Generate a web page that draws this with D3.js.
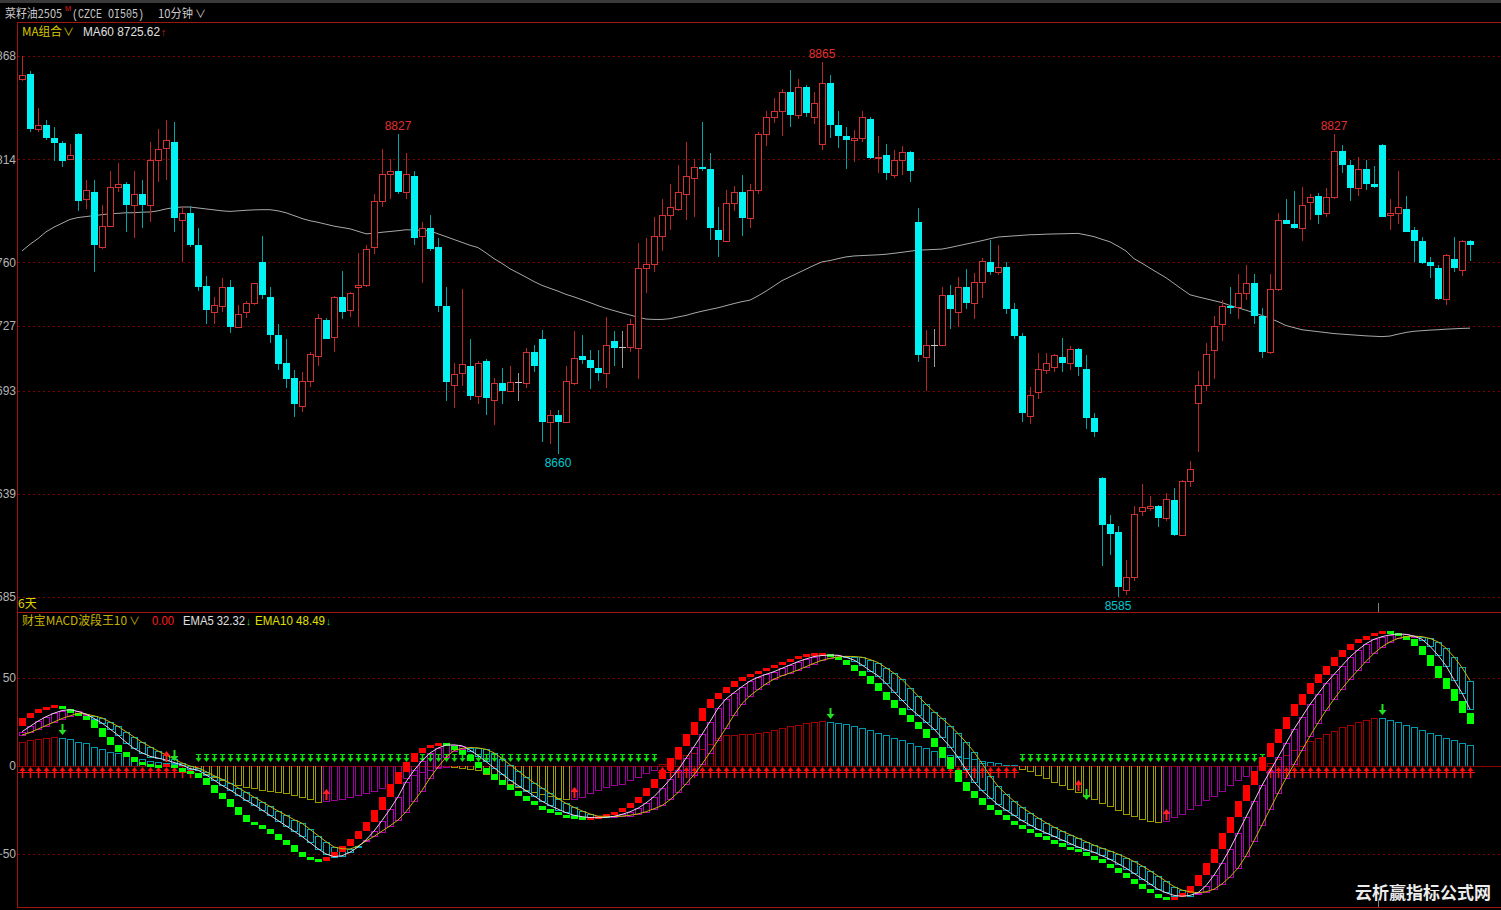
<!DOCTYPE html>
<html><head><meta charset="utf-8">
<script src="https://cdn.jsdelivr.net/npm/d3@7"></script>
<style>
html,body{margin:0;padding:0;background:#000;overflow:hidden}
svg{display:block}
</style></head><body>
<svg id="c" width="1501" height="910"></svg>
<script>
const open=[8856,8858.5,8830,8832,8825,8822.5,8814,8827,8793,8797,
8768,8779,8799.5,8801,8790,8796,8790,8813.5,8820,8823,
8782,8786,8769,8747.5,8734,8737,8747,8726,8734,8739,
8760.5,8742,8722,8707.5,8699.5,8685,8698,8711,8730,8721,
8742,8735,8747,8748,8768,8792,8806.5,8808,8797,8805,
8774,8778,8768,8737,8696,8702,8706,8690,8708.5,8688,
8697,8693,8697.5,8697,8713,8720,8676.5,8680,8676.5,8697,
8711,8709,8705,8702,8719,8715.8,8716,8715,8757,8759,
8774,8785,8788,8796,8804,8810,8809,8777,8771,8791,
8797,8783,8798,8827,8836,8839,8849,8837,8852,8836,
8822,8854,8832,8826,8824,8825,8835,8814.5,8816,8806,
8813.5,8818,8781,8710.5,8717,8717,8743,8734,8747,8739,
8750,8760.5,8755,8757.5,8735.5,8721.5,8679.5,8692,8703.5,8705.5,
8710.5,8707.5,8714.5,8704.5,8678.5,8647.5,8623,8619,8588.5,8595.5,
8630,8631.5,8632.5,8626.5,8636,8617.5,8645.5,8686.5,8696,8714,
8728,8737,8736.5,8744,8749,8732,8713,8746,8782,8780,
8778,8791.5,8795,8786,8794,8818.5,8811,8799,8809,8801,
8821.5,8785,8786,8788,8777,8771,8760,8757,8741,8762,
8756,8771];
const high=[8868,8860,8841,8834.5,8831,8823.5,8822,8827.5,8803,8803,
8790,8808,8812,8802,8808,8803,8823,8830,8834.5,8833.5,
8789,8789.5,8778,8753,8742,8752,8751,8738,8740,8749.5,
8774,8747,8728,8720,8704,8702.5,8713,8733,8731,8742.5,
8755.5,8744.5,8765,8769,8796,8819.5,8814,8827,8817,8808,
8781,8785,8773,8747,8707.5,8746,8720,8708.5,8709.5,8699.5,
8705,8706,8702,8715.5,8717,8724.5,8683,8683,8706,8724,
8722,8714,8714,8731.5,8724,8724,8730.5,8770,8773,8784,
8793,8801,8811,8823,8814,8833.5,8817,8789,8798,8800,
8805.5,8801,8828.5,8839,8846,8850.5,8860.5,8856,8853,8849,
8865,8858,8839,8831,8829.5,8839,8836,8826,8822,8819,
8821,8818.5,8788.5,8724.5,8725,8747,8748,8752.5,8756.5,8754.5,
8762.5,8772,8769,8760.5,8739,8723,8695,8712.5,8712.5,8712,
8720.5,8716.5,8715,8711.5,8681,8648,8628,8622,8604.5,8632.5,
8644,8638,8633,8639.5,8642,8646,8656,8703,8718,8732,
8740.5,8747,8754,8758.5,8754,8736,8754,8786,8793,8797.5,
8799.5,8796,8796.5,8799,8827,8821.5,8813.5,8815,8813.5,8810.5,
8822,8793,8808,8795,8778.5,8773.5,8763,8758.5,8764.5,8773.5,
8772,8772];
const low=[8855,8828,8828,8824,8813,8810,8813.5,8787,8788,8755,
8767,8778.5,8797,8776,8773,8778,8781,8802,8803,8776,
8760,8768,8745,8728,8728,8734,8723,8725.5,8731,8738,
8741,8718,8704,8694.5,8679,8682,8695,8706,8720,8713,
8730.5,8731.5,8726.5,8747,8764.5,8789,8793,8796,8793,8769,
8749,8766,8734,8687.5,8684,8695.5,8688,8686,8680,8675,
8686,8692.5,8687.5,8694.5,8702.5,8666,8665,8660,8676,8696,
8707,8694,8698,8694.5,8706,8705,8713,8699,8744,8755,
8766,8777,8787,8782,8784,8808,8772,8763,8770.5,8787,
8774,8778,8796,8821,8833,8826,8831,8835,8836,8832.5,
8819,8825,8820,8809,8812.5,8823,8814,8807,8803,8804,
8806,8802,8708,8693,8705.5,8717,8725,8726,8735.5,8730.5,
8741.5,8753.5,8753.5,8733,8720,8676.5,8675.5,8688.5,8701.5,8702.5,
8702.5,8703.5,8700.5,8673,8668.5,8601,8607,8585,8586,8593.5,
8627.5,8630,8621.5,8624.5,8617,8617,8642.5,8661,8693,8699,
8719,8733,8730.5,8740.5,8728,8710,8712,8745,8780,8777.5,
8771,8782,8780,8784,8793,8807,8792,8795,8798,8799,
8784,8777,8780,8776,8760,8759,8752,8740.5,8737.5,8755,
8753,8761];
const close=[8858,8830,8832,8825,8822.5,8813,8816,8792,8798,8769,
8779,8799.5,8801,8790,8796,8790,8813.5,8819.5,8824,8783,
8786,8769,8747,8735,8738,8747,8726,8733,8739,8749,
8743,8722,8707,8699,8686,8698,8712,8731,8720,8742,
8734,8744,8748,8767,8792,8806.5,8808,8797,8806.5,8773,
8778,8767,8737,8697.5,8701.5,8707,8690,8707.5,8689,8697,
8693,8697.5,8697.5,8713,8706,8676.5,8680,8676.5,8698,8710,
8709,8705,8702,8717,8715,8715.8,8728,8757,8759,8774,
8785,8789,8797,8805,8810,8809,8778,8772,8791,8797,
8783,8798,8827,8836,8839,8849,8837,8852,8838,8843.5,
8854,8832,8826,8824,8825,8836,8814.5,8815,8807,8813.5,
8818,8808,8711.5,8717,8717,8743,8735.5,8747,8739,8750,
8761,8755,8757.5,8735.5,8721.5,8681,8690.5,8704.5,8707.5,8711.5,
8707.5,8714.5,8705.5,8678.5,8671.5,8622.5,8618,8590,8595.5,8628.5,
8632,8632.5,8626.5,8636.5,8617.5,8645.5,8652,8696,8712,8727,
8737,8736,8744,8749,8732,8713,8746,8782,8780,8778,
8790,8794,8785,8794,8818.5,8811,8799,8809,8801,8799.5,
8784,8786,8789,8776,8771,8759.5,8758,8741,8764,8757,
8771,8769.3];
const ma60=[8766,8769.5,8772.5,8776,8778.5,8780.5,8782.5,8783.5,8784,8784.5,
8785,8785.5,8785.7,8786,8786,8786.3,8786.4,8787,8788,8788.7,
8789,8789,8788.5,8788,8787.5,8787,8786.7,8787,8787.3,8787.5,
8787.6,8787.6,8787,8786,8784.5,8783,8781.8,8781,8780,8779,
8778.3,8777.6,8776.3,8775,8775.2,8775.8,8776.2,8776.6,8777.1,8777,
8776.8,8776.5,8775,8773.5,8772,8770.5,8769,8767.8,8765,8762,
8759.5,8756.7,8754.5,8752.3,8750,8748,8746.5,8745,8743.3,8742,
8740.5,8739,8737.4,8736,8734.8,8733.6,8732.5,8731.4,8730.4,8730.2,
8730.2,8730.6,8731.5,8732.3,8733.5,8734.5,8735.4,8736.3,8737.4,8738.5,
8739.5,8740.3,8742.5,8745,8747.7,8750.5,8752.5,8754.5,8756.5,8758.5,
8760.3,8761,8762,8762.9,8763.4,8763.6,8763.8,8764,8764.3,8764.8,
8765.3,8765.9,8766.4,8766.6,8766.8,8767,8767.8,8768.7,8769.6,8770.5,
8771.4,8772.4,8773.3,8773.6,8773.9,8774.2,8774.5,8774.6,8774.8,8774.9,
8775,8775.1,8775.2,8774.4,8773.5,8772.1,8770.8,8768.5,8766,8762,
8759.6,8757,8754.5,8752,8749,8746,8743.1,8742,8741,8740,
8739,8737.5,8736.3,8735,8733.7,8732.3,8730.8,8729,8727,8725.9,
8724.8,8724.3,8723.8,8723.3,8722.8,8722.5,8722.2,8721.9,8721.6,8721.4,
8721.2,8721.5,8722.5,8723.4,8724,8724.3,8724.6,8724.8,8725.1,8725.3,
8725.5,8725.62];

const fastStart=22.7;
const fast=[27.3,30.1,32.4,33.5,34.1,
32.4,30.1,28.4,26.1,21.6,16.5,11.9,8,5.1,2.3,0.6,0,-0.3,0.5,-1,-3,-4,
-6.8,-10.8,-15.3,-18.8,-23.3,-27.8,-31.8,-33.5,-35.8,-38.6,-42,-44.9,-48.9,-51.7,-53.4,-54,
-51.7,-48.9,-45.5,-41.5,-36.9,-31.8,-25,-17.6,-10.2,-3.4,2.3,7.4,10.2,11.9,13.1,
11.4,9,6,2.5,-1,-4.5,-8,-11,-14,-17,-20,-22.5,-24.5,-26.5,-28,-29,-29.7,-30,-29.8,-29,-27.5,-26,-24,-21,
-17.4,-12.7,-7.6,-2.3,4.4,11,18,25.2,32.8,38.1,41.7,45.1,48.3,50.4,52.1,53.6,55.5,57.4,59.3,60.8,62.7,63.2,63.5,63.6,
61.8,60.2,57.4,54.2,51.3,47,42.2,37.5,32.8,29,
25,21,16,11,5,-2,-9,-14,-18,-22,-25,-28,-31,-33.5,-36,-38,-40,-42,-44,-46,-47.5,-49,-51,-53,-55.5,-58,-61,-64,-67,-70,-72.5,-74.5,-75.5,
-74.5,-72,-68,-62,-55,-47,-38,-29,-20,-11,-3,5,13,21,28,35,41,47,52,57,62,66,69.5,72,74,75.5,76,
75.5,74,72,68,63,57,50,44,37,30,24];
const ema5=[19.5,22.5,25.5,28,30,31.5,32,31,29.5,27,24.4,21,17.5,13.5,10,7.5,5.5,4.5,3.4,2,0.6,-1.5,
-2.3,-5,-8,-11,-13.6,-16.5,-19.5,-22,-25,-28,-31,-34,-37,-40,-43.5,-47,-50,-51.5,-51,-49,-46,-42,-37,-31,-24.5,-17.5,
-9,-2.5,3,
7.4,10.2,11.9,12,11.5,9,6,2.5,-1,-4.5,
-8,-11,-14,-17,-20,-22.5,-24.5,-26.5,-28,-28.8,
-29.3,-29.4,-29.2,-28.6,-27.5,-26,-24,-21,-17.4,-12.7,
-7.6,-2.3,4.4,11,18,25.2,32.8,38.1,41.7,45.1,
48.3,50.4,52.1,53.6,55.5,57.4,59.3,60.8,62.2,62.8,
63,62.9,61.8,60.2,57.4,54.2,51.3,47,42.2,37.5,
32.8,29,25,21,16,11,5,-2,-9,-14,
-18,-22,-25,-28,-31,-33.5,-36,-38,-40,-42,
-44,-46,-47.5,-49,-51,-53,-55.5,-58,-61,-64,
-67,-70,-72,-73.5,-74,-73.5,-72,-68,-62,-55,
-47,-38,-29,-20,-11,-3,5,13,21,28,
35,41,47,52,57,62,66,69.5,72,73.5,
74.5,75,74.8,73.8,72,68,63,57,49,41.5,32.32];
const ema10=[17.6,19,21,23,25,27,28.5,30,
29.5,28.5,27.3,25,22.5,19.5,16.5,13.5,11,8.5,6.3,4,1.7,0,-1.1,-3.2,-5.5,-7.5,-9.7,
-12.3,-15,-17.7,-20.3,-23,-25.5,-28,-30.5,-32.5,-36,-39.5,-43,-46,-47,-47.2,-45.5,-42.6,-40,-37,-34,-30.7,
-26,-20,-13.9,
-6.8,-0.55,4.85,8.8,10,10.5,10.3,9.5,7.5,4.25,
0.75,-2.75,-6.25,-9.5,-12.5,-15.5,-18.5,-21.25,-23.5,-25.5,
-27.25,-28.5,-28.6,-28.7,-28.5,-28,-27.2,-26,-24.3,-22.5,
-19.2,-15.05,-10.15,-4.95,1.05,7.7,14.6,21.6,29,35.45,
39.9,43.4,46.7,49.35,51.25,52.85,54.55,56.45,58.35,60.05,
61.2,62,62.3,62.2,61.8,60.5,58.8,55.8,52.75,49.15,
44.6,39.85,35.15,30.9,27,23,18.5,13.5,8,1.5,
-5.5,-11.5,-16,-20,-23.5,-26.5,-29.5,-32.25,-34.75,-37,
-39,-41,-43,-45,-46.75,-48.25,-50,-52,-54.25,-56.75,
-59.5,-62.5,-65.5,-68.5,-70.5,-71.5,-72,-71.5,-70,-67,
-63,-58,-51,-42.5,-33.5,-24.5,-15.5,-7,1,9,
17,24.5,31.5,38,44,49.5,54.5,59.5,64,67.75,
70.5,72.5,73.5,73.8,73.5,72.5,70.5,67,62,56,48.49];
const hist=[13.5,14.8,15.3,15.9,16.3,15.9,15.2,13.8,12.9,11,9.5,8.1,7.2,5.7,4.9,3.7,2.7,2.3,1.8,1.2,0.6,0.2,
-2,-4.5,-6,-8,-9.8,-10.8,-11.7,-12.7,-13.6,-14.1,-14.6,-15.5,-16.5,-17.8,-18.9,-20.3,
-20,-19.3,-18.5,-17.4,-16.5,-15.2,-14,-12.5,-10.8,-9,-7,-5,-3.5,-2,-1,-0.5,-0.8,-1.2,-1.8,
-2.5,-4.5,-6.5,-8.5,-10.5,-12,-13.5,-15,-16,-17,-18,-19,-18.7,-17.5,-15.5,-13.5,-12,-11,-10,-8,-6,-4,-2,
1,2.5,4,6,7.5,9.5,12.5,16,17.5,17.8,18,18.2,18.5,19.5,20.5,21.5,22.5,23.5,24.3,25,25.4,
25.2,24.6,23.7,23,21.6,20.5,18.8,17.8,15.7,14.5,13,11.5,10,8.5,7.5,6.5,5.5,4.5,3.7,3,2.2,1.5,0.8,0.3,
-1.5,-3,-5,-7,-9,-11,-13,-15,-17,-19,-21,-23,-25,-27,-28.5,-30,-31,-32,
-31,-29,-27,-24.5,-22,-19.5,-17,-14,-11,-8,-5.5,-3,-1,
1.5,4,6.5,9,11.5,14,16,18,20,22,23.5,25,26,27.5,
27,26,25,23.5,22,20.5,19,17.5,16,14.5,13,12];

const priceTicks=[8868,8814,8760,8727,8693,8639,8585];
const macdTicks=[50,0,-50];
const highMarks=[47,100,164];
const lowMarks=[67,137];
const upSignals=[18,38,69,132,143];
const downSignals=[5,19,101,133,170];

const n=close.length;
[open,high,low,ma60,fast,ema5,ema10,hist].forEach((a,j)=>{ if(a.length!==n) throw new Error('length mismatch '+j+': '+a.length+' vs '+n); });

const FONT='"Liberation Sans",Arial,sans-serif';
const CJK='"Noto Sans CJK SC","Liberation Sans",sans-serif';
const svg=d3.select('#c');
const W=1501,H=910;
const x=d3.scaleLinear().domain([0,n-1]).range([22,1470]);
const yP=d3.scaleLinear().domain([8585,8868]).range([597,56]);
const yM=d3.scaleLinear().domain([-50,50]).range([854,678]);
const px=i=>Math.round(x(i));
const cr=v=>Math.round(v)+0.5;

svg.append('rect').attr('width',W).attr('height',H).attr('fill','#000');
svg.append('rect').attr('x',0).attr('y',0).attr('width',W).attr('height',3).attr('fill','#3a3a3a');

// grid
const grid=svg.append('g').attr('stroke','#7c0000').attr('stroke-dasharray','2,3').attr('stroke-width',1);
grid.selectAll('line.gp').data(priceTicks).join('line').attr('class','gp')
  .attr('x1',18).attr('x2',W).attr('y1',d=>cr(yP(d))).attr('y2',d=>cr(yP(d)));
grid.selectAll('line.gm').data(macdTicks.filter(d=>d!==0)).join('line').attr('class','gm')
  .attr('x1',18).attr('x2',W).attr('y1',d=>cr(yM(d))).attr('y2',d=>cr(yM(d)));

// axes
function styleAxis(g){
  g.select('.domain').remove();
  g.attr('font-family',FONT).attr('font-size',12);
  g.selectAll('text').attr('fill','#b4b4b4');
}
svg.append('g').attr('transform','translate(16,0)')
  .call(d3.axisLeft(yP).tickValues(priceTicks).tickSize(0).tickPadding(0).tickFormat(d3.format('d')))
  .call(styleAxis);
svg.append('g').attr('transform','translate(16,0)')
  .call(d3.axisLeft(yM).tickValues(macdTicks).tickSize(0).tickPadding(0).tickFormat(d3.format('d')))
  .call(styleAxis);

// MA60
svg.append('path').datum(ma60).attr('fill','none').attr('stroke','#a8a8a8').attr('stroke-width',1)
  .attr('d',d3.line().x((d,i)=>x(i)).y(d=>yP(d)));

// candles
const idx=d3.range(n);
const cg=svg.append('g').attr('shape-rendering','crispEdges');
cg.selectAll('g').data(idx).join('g').each(function(i){
  const g=d3.select(this);
  const o=open[i],c=close[i],h=high[i],l=low[i];
  const cx=px(i);
  const up=c>o, dn=c<o;
  const top=Math.round(yP(Math.max(o,c))), bot=Math.round(yP(Math.min(o,c)));
  const yh=Math.round(yP(h)), yl=Math.round(yP(l));
  if(up){
    g.append('line').attr('x1',cx+0.5).attr('x2',cx+0.5).attr('y1',yh).attr('y2',top).attr('stroke','#b42828');
    g.append('line').attr('x1',cx+0.5).attr('x2',cx+0.5).attr('y1',bot).attr('y2',yl).attr('stroke','#b42828');
    g.append('rect').attr('x',cx-2.5).attr('y',top+0.5).attr('width',6).attr('height',Math.max(bot-top,1))
      .attr('fill','#000').attr('stroke','#d23232').attr('stroke-width',1);
  } else if(dn){
    g.append('line').attr('x1',cx+0.5).attr('x2',cx+0.5).attr('y1',yh).attr('y2',yl).attr('stroke','#00a4a4');
    g.append('rect').attr('x',cx-3).attr('y',top).attr('width',7).attr('height',Math.max(bot-top,2)).attr('fill','#00f2f2');
  } else {
    g.append('line').attr('x1',cx+0.5).attr('x2',cx+0.5).attr('y1',yh).attr('y2',yl).attr('stroke','#9a9a9a');
    g.append('line').attr('x1',cx-3).attr('x2',cx+4).attr('y1',top+0.5).attr('y2',top+0.5).attr('stroke','#c8c8c8');
  }
});

// high/low labels
svg.append('g').selectAll('text').data(highMarks).join('text')
  .attr('x',i=>x(i)).attr('y',i=>yP(high[i])-4).attr('text-anchor','middle')
  .attr('font-family',FONT).attr('font-size',12).attr('fill','#e03030').text(i=>d3.format('d')(high[i]));
svg.append('g').selectAll('text').data(lowMarks).join('text')
  .attr('x',i=>x(i)).attr('y',i=>yP(low[i])+13).attr('text-anchor','middle')
  .attr('font-family',FONT).attr('font-size',12).attr('fill','#00c8d0').text(i=>d3.format('d')(low[i]));

// ---- lower panel ----
const y0=yM(0);
svg.append('line').attr('x1',18).attr('x2',W).attr('y1',cr(y0)).attr('y2',cr(y0)).attr('stroke','#8c0000');

// histogram (hollow bars)
function histColor(i){
  const v=hist[i], p=i>0?hist[i-1]:v-1;
  if(v>=0) return v>=p?'#a00000':'#0098ac';
  return v<=p?'#9c9c00':'#9c009c';
}
const hg=svg.append('g').attr('shape-rendering','crispEdges').attr('fill','none');
idx.forEach(i=>{
  const cx=px(i), ye=Math.round(yM(hist[i])), yb=Math.round(y0);
  const col=histColor(i);
  hg.append('path').attr('d',`M${cx-2.5},${yb}V${ye+0.5}H${cx+3.5}V${yb}`)
    .style('stroke',col).style('stroke-width','1px').style('fill','none');
});

// arrow rows
const rows=svg.append('g');
idx.forEach(i=>{
  const cx=px(i)+0.5;
  if(hist[i]>=0){
    rows.append('line').attr('x1',cx-4.5).attr('x2',cx+4.5).attr('y1',772.5).attr('y2',772.5).attr('stroke','#ff1010');
    rows.append('path').attr('d',`M${cx},767L${cx-3},771L${cx+3},771Z`).attr('fill','#ff1010');
    rows.append('line').attr('x1',cx).attr('x2',cx).attr('y1',770).attr('y2',778).attr('stroke','#ff1010').attr('stroke-width',1.5);
  } else {
    rows.append('line').attr('x1',cx).attr('x2',cx).attr('y1',754).attr('y2',759).attr('stroke','#10e010').attr('stroke-width',1.5);
    rows.append('path').attr('d',`M${cx-3},758L${cx+3},758L${cx},762Z`).attr('fill','#10e010');
    rows.append('line').attr('x1',cx-2.5).attr('x2',cx+2.5).attr('y1',754.5).attr('y2',754.5).attr('stroke','#10e010');
  }
});

// band between EMA5 and EMA10
svg.append('g').attr('shape-rendering','crispEdges').selectAll('rect').data(idx).join('rect')
  .attr('x',i=>px(i)-2.5).attr('width',6)
  .attr('y',i=>Math.round(Math.min(yM(ema5[i]),yM(ema10[i])))+0.5)
  .attr('height',i=>Math.max(Math.round(Math.abs(yM(ema5[i])-yM(ema10[i]))),1))
  .attr('fill','none').style('stroke',i=>ema5[i]>=ema10[i]?'#b400b4':'#00a8bc').attr('stroke-width',1);

// step squares of the fast line
const prevFast=i=>i?fast[i-1]:fastStart;
svg.append('g').attr('shape-rendering','crispEdges').selectAll('rect').data(idx).join('rect')
  .attr('x',i=>px(i)-3).attr('width',7)
  .attr('y',i=>{const a=yM(prevFast(i)),b=yM(fast[i]); const h=Math.abs(a-b); return Math.round(Math.min(a,b)-(h<3?(3-h)/2:0));})
  .attr('height',i=>Math.max(Math.round(Math.abs(yM(prevFast(i))-yM(fast[i]))),3))
  .attr('fill',i=>fast[i]>=prevFast(i)?'#ff0000':'#00ff00');

// EMA lines
svg.append('path').datum(ema10).attr('fill','none').attr('stroke','#c8b800').attr('stroke-width',1)
  .attr('d',d3.line().x((d,i)=>x(i)).y(d=>yM(d)));
svg.append('path').datum(ema5).attr('fill','none').attr('stroke','#e6d6e6').attr('stroke-width',1)
  .attr('d',d3.line().x((d,i)=>x(i)).y(d=>yM(d)));

// signal arrows
const sg=svg.append('g');
upSignals.forEach(i=>{
  const cx=px(i)+0.5, b=Math.round(yM(hist[i]));
  sg.append('path').attr('d',`M${cx},${b-12}L${cx-4},${b-7}L${cx+4},${b-7}Z`).attr('fill','#ff2020');
  sg.append('line').attr('x1',cx).attr('x2',cx).attr('y1',b-8).attr('y2',b-1).attr('stroke','#ff2020').attr('stroke-width',2);
});
downSignals.forEach(i=>{
  const cx=px(i)+0.5, v=hist[i];
  const tip=v>=0?Math.round(yM(v))-3:Math.round(yM(v))+4;
  sg.append('path').attr('d',`M${cx-4},${tip-5}L${cx+4},${tip-5}L${cx},${tip}Z`).attr('fill','#20e020');
  sg.append('line').attr('x1',cx).attr('x2',cx).attr('y1',tip-11).attr('y2',tip-4).attr('stroke','#20e020').attr('stroke-width',2);
});

// borders
const bc='#a01414';
svg.append('line').attr('x1',17.5).attr('x2',17.5).attr('y1',22).attr('y2',908).attr('stroke',bc);
svg.append('line').attr('x1',17).attr('x2',W).attr('y1',22.5).attr('y2',22.5).attr('stroke',bc);
svg.append('line').attr('x1',17).attr('x2',W).attr('y1',612.5).attr('y2',612.5).attr('stroke',bc);
svg.append('line').attr('x1',17).attr('x2',W).attr('y1',907.5).attr('y2',907.5).attr('stroke',bc);
svg.append('line').attr('x1',1378.5).attr('x2',1378.5).attr('y1',603).attr('y2',612).attr('stroke','#808080');
svg.append('line').attr('x1',1378.5).attr('x2',1378.5).attr('y1',900).attr('y2',907).attr('stroke','#808080');

// header texts
function txt(xp,yp,s,col,size,fam,len,weight){
  const t=svg.append('text').attr('x',xp).attr('y',yp).attr('fill',col).attr('font-size',size)
    .attr('font-family',fam||FONT).attr('font-weight',weight||'normal').text(s);
  if(len) t.attr('textLength',len).attr('lengthAdjust','spacingAndGlyphs');
  return t;
}
txt(5,18,'菜籽油2505','#c8c8c8',12,CJK,57);
txt(65,11,'M','#e02020',8,FONT,6);
txt(72,18,'(CZCE OI505)','#c8c8c8',12,'"Liberation Mono",monospace',72);
txt(158,18,'10分钟','#c8c8c8',12,CJK,35);
txt(195,18,'∨','#c8c8c8',11,CJK);

txt(22,36,'MA组合','#d8c800',12,CJK,40);
txt(63,36,'∨','#d8c800',11,CJK);
txt(83,36,'MA60 8725.62','#e0e0e0',12,FONT,77);
txt(161,36,'↑','#e02020',11,FONT,5);

txt(18,608,'6天','#e0d000',12,CJK);

txt(22,625,'财宝MACD波段王10','#c8b400',12,CJK,105);
txt(129,625,'∨','#c8b400',11,CJK);
txt(152,625,'0.00','#ff1e1e',12,FONT,22);
txt(183,625,'EMA5 32.32','#e0e0e0',12,FONT,62);
txt(246,625,'↓','#20d020',11,FONT,5);
txt(255,625,'EMA10 48.49','#e0e000',12,FONT,70);
txt(326,625,'↓','#20d020',11,FONT,5);

// watermark
txt(1355,899,'云析赢指标公式网','#ececec',17,CJK,null,'bold');
</script>
</body></html>
